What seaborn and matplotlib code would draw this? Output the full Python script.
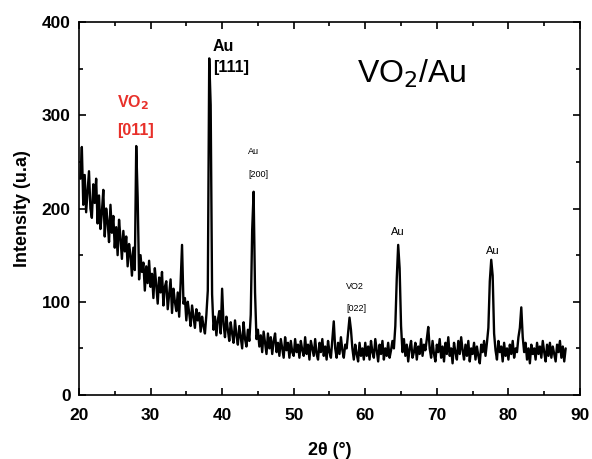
import numpy as np
import pandas as pd
import matplotlib
matplotlib.use("Agg")
import matplotlib.pyplot as plt
from matplotlib.ticker import MultipleLocator
import seaborn as sns

# XRD scan, 0.2 deg steps, values
scan_start = 20.2
scan_step = 0.2

counts_20s = [232, 266, 204, 236, 196, 218, 240, 200, 190, 226,
              206, 232, 184, 214, 178, 196, 220, 170, 200, 186,
              164, 204, 174, 192, 158, 180, 150, 188, 168, 146,
              176, 154, 170, 138, 162, 150, 128, 158, 134, 267,
              212, 124, 150, 132, 142, 112, 138, 120, 144, 116]
counts_30s = [130, 104, 136, 118, 98, 126, 110, 132, 96, 116,
              122, 92, 108, 124, 88, 114, 100, 90, 110, 84,
              120, 161, 98, 104, 80, 100, 88, 74, 96, 84,
              72, 92, 80, 88, 68, 84, 74, 66, 86, 112,
              361, 311, 108, 70, 84, 64, 80, 90, 66, 114]
counts_40s = [76, 62, 84, 70, 58, 78, 66, 56, 80, 64,
              54, 74, 62, 50, 78, 60, 52, 70, 58, 86,
              177, 218, 110, 60, 70, 52, 64, 46, 68, 56,
              44, 66, 50, 62, 44, 58, 66, 46, 56, 42,
              60, 50, 40, 62, 48, 56, 40, 58, 46, 42]
counts_50s = [60, 46, 54, 40, 58, 48, 42, 62, 44, 54,
              38, 58, 50, 42, 60, 44, 38, 56, 46, 60,
              42, 52, 38, 58, 46, 40, 60, 79, 50, 40,
              56, 44, 62, 48, 40, 54, 50, 66, 83, 70,
              50, 38, 54, 44, 36, 56, 42, 50, 38, 56]
counts_60s = [42, 52, 38, 58, 46, 40, 60, 48, 36, 54,
              44, 58, 38, 50, 42, 56, 40, 48, 58, 50,
              74, 125, 161, 136, 74, 46, 60, 42, 54, 36,
              50, 58, 40, 46, 56, 38, 52, 44, 60, 42,
              54, 48, 60, 73, 50, 40, 58, 44, 36, 54]
counts_70s = [46, 60, 40, 52, 36, 56, 44, 62, 42, 50,
              34, 56, 46, 38, 58, 44, 62, 48, 38, 54,
              42, 58, 36, 50, 44, 56, 38, 52, 42, 34,
              54, 46, 58, 42, 56, 72, 122, 145, 128, 66,
              48, 38, 58, 46, 52, 36, 56, 42, 50, 38]
counts_80s = [54, 44, 58, 40, 50, 46, 62, 72, 94, 62,
              46, 56, 38, 50, 34, 54, 44, 50, 38, 56,
              44, 52, 40, 58, 46, 36, 54, 42, 56, 40,
              52, 44, 36, 54, 46, 58, 40, 52, 36, 50]

intensity = counts_20s + counts_30s + counts_40s + counts_50s + counts_60s + counts_70s + counts_80s
two_theta = scan_start + scan_step * np.arange(len(intensity))
df = pd.DataFrame({"two_theta": two_theta, "intensity": intensity})

sns.set_style("ticks", {"axes.edgecolor": "black", "text.color": "black",
                        "axes.labelcolor": "black", "xtick.color": "black",
                        "ytick.color": "black"})
plt.rcParams["font.family"] = ["Liberation Sans", "DejaVu Sans"]

fig = plt.figure(figsize=(5.92, 4.59), dpi=100)
ax = fig.add_axes([0.1334, 0.1394, 0.8463, 0.8126])

sns.lineplot(data=df, x="two_theta", y="intensity", color="black", linewidth=1.7, ax=ax)

ax.set_xlim(20, 90)
ax.set_ylim(0, 400)
ax.xaxis.set_major_locator(MultipleLocator(10))
ax.xaxis.set_minor_locator(MultipleLocator(5))
ax.yaxis.set_major_locator(MultipleLocator(100))
ax.yaxis.set_minor_locator(MultipleLocator(50))
ax.tick_params(which="both", direction="in", top=True, right=True, width=1.2, color="black")
ax.tick_params(which="major", length=5, labelsize=12.5, labelcolor="black")
ax.tick_params(which="minor", length=3)
ax.tick_params(axis="x", which="major", pad=9)
ax.tick_params(axis="y", which="major", pad=6)
for lab in ax.get_xticklabels() + ax.get_yticklabels():
    lab.set_fontweight("bold")
for sp in ax.spines.values():
    sp.set_linewidth(1.2)
    sp.set_color("black")

ax.set_xlabel("2θ (°)", fontsize=13, fontweight="bold", labelpad=14, color="black")
ax.set_ylabel("Intensity (u.a)", fontsize=13, fontweight="bold", labelpad=8, color="black")

red = "#e8302a"
ax.text(25.3, 314, "VO$_\\mathbf{2}$", color=red, fontsize=11.5, fontweight="bold", va="center")
ax.text(25.3, 284, "[011]", color=red, fontsize=11.5, fontweight="bold", va="center")
ax.text(38.7, 374, "Au", color="black", fontsize=11.5, fontweight="bold", va="center")
ax.text(38.7, 351, "[111]", color="black", fontsize=11.5, fontweight="bold", va="center")
ax.text(43.6, 261, "Au", color="black", fontsize=6.5, va="center")
ax.text(43.6, 236, "[200]", color="black", fontsize=6.5, va="center")
ax.text(57.3, 116, "VO2", color="black", fontsize=6.5, va="center")
ax.text(57.3, 93, "[022]", color="black", fontsize=6.5, va="center")
ax.text(64.5, 175, "Au", color="black", fontsize=8, ha="center", va="center")
ax.text(77.8, 154, "Au", color="black", fontsize=8, ha="center", va="center")
ax.text(58.8, 344, "VO$_2$/Au", color="black", fontsize=23, va="center")

fig.savefig("out.png", dpi=100)
